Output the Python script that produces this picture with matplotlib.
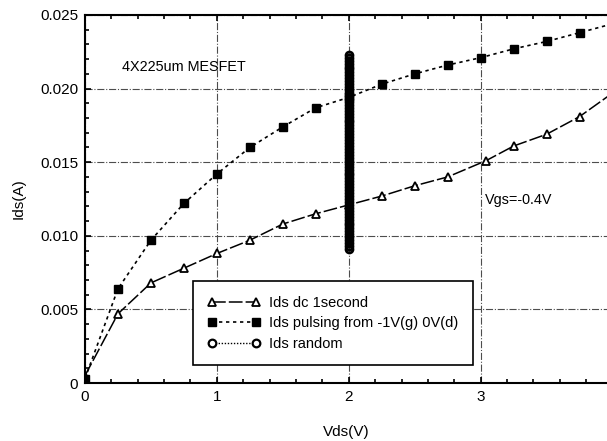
import numpy as np
import matplotlib.pyplot as plt
from matplotlib.ticker import MultipleLocator

plt.rcParams['font.family'] = ['Liberation Sans', 'DejaVu Sans']

# Ids dc 1second
vds_dc = [0.0, 0.25, 0.5, 0.75, 1.0, 1.25, 1.5, 1.75, 2.0, 2.25, 2.5, 2.75,
          3.04, 3.25, 3.5, 3.75, 4.0]
ids_dc = [0.0005, 0.0047, 0.0068, 0.0078, 0.0088, 0.0097, 0.0108, 0.0115,
          0.0121, 0.0127, 0.0134, 0.0140, 0.0151, 0.0161, 0.0169, 0.0181, 0.0197]

# Ids pulsing from -1V(g) 0V(d)
vds_pulse = [0.0, 0.25, 0.5, 0.75, 1.0, 1.25, 1.5, 1.75, 2.0, 2.25, 2.5, 2.75,
             3.0, 3.25, 3.5, 3.75, 4.0]
ids_pulse = [0.0003, 0.0064, 0.0097, 0.0122, 0.0142, 0.0160, 0.0174, 0.0187,
             0.0194, 0.0203, 0.0210, 0.0216, 0.0221, 0.0227, 0.0232, 0.0238, 0.0244]

# Ids random (all measured at Vds = 2V)
ids_random = [0.0091, 0.0093, 0.0095, 0.0097, 0.0099, 0.0101, 0.0103, 0.0105,
              0.0107, 0.0109, 0.0111, 0.0113, 0.0115, 0.0117, 0.0119, 0.0121,
              0.0123, 0.0125, 0.0127, 0.0129, 0.0131, 0.0133, 0.0135, 0.0137,
              0.0139, 0.0141, 0.0143, 0.0145, 0.0147, 0.0149, 0.0151, 0.0153,
              0.0155, 0.0157, 0.0159, 0.0161, 0.0163, 0.0165, 0.0167, 0.0169,
              0.0171, 0.0173, 0.0175, 0.0177, 0.0179, 0.0181, 0.0183, 0.0185,
              0.0187, 0.0189, 0.0191, 0.0193, 0.0195, 0.0197, 0.0199, 0.0201,
              0.0203, 0.0205, 0.0207, 0.0209, 0.0211, 0.0213, 0.0215, 0.0217,
              0.0219, 0.0221, 0.0223]
vds_random = [2.0] * len(ids_random)

fig = plt.figure(figsize=(6.07, 4.41), dpi=100)
ax = fig.add_axes([0.140, 0.1315, 0.862, 0.8345])

ax.grid(True, which='major', color='0.3', ls='-.', lw=0.8)
ax.set_axisbelow(True)

ax.plot(vds_dc, ids_dc, color='black', lw=1.1, dashes=(9, 2),
        marker='^', markersize=5.5, markerfacecolor='white', markeredgecolor='black',
        markeredgewidth=1.3, label='Ids dc 1second')
ax.plot(vds_pulse, ids_pulse, color='black', lw=1.2, dashes=(2, 2.2),
        marker='s', markersize=6, markerfacecolor='black', markeredgecolor='black',
        label='Ids pulsing from -1V(g) 0V(d)')
# legend-only handle for the random series (open circle)
ax.plot([], [], color='black', lw=1.0, ls=(0, (1, 1.2)),
        marker='o', markersize=5.5, markerfacecolor='white', markeredgecolor='black',
        markeredgewidth=1.6, label='Ids random')
ax.plot(vds_random, ids_random, color='black', lw=1.0, ls='none',
        marker='o', markersize=5, markerfacecolor='none', markeredgecolor='black',
        markeredgewidth=2.0)

ax.set_xlim(0, 3.967)
ax.set_ylim(0, 0.025)

ax.xaxis.set_minor_locator(MultipleLocator(0.2))
ax.yaxis.set_minor_locator(MultipleLocator(0.001))
ax.set_yticks([0, 0.005, 0.01, 0.015, 0.02, 0.025])
ax.set_yticklabels(['0', '0.005', '0.010', '0.015', '0.020', '0.025'])
ax.set_xticks([0, 1, 2, 3])
ax.set_xticklabels(['0', '1', '2', '3'])

ax.tick_params(which='both', direction='in', top=True, right=False, labelsize=11)
ax.tick_params(which='major', length=4, width=1.2, pad=5)
ax.tick_params(which='minor', length=3, width=1.2)

ax.spines['right'].set_visible(False)
for s in ['left', 'bottom', 'top']:
    ax.spines[s].set_linewidth(1.5)

ax.text(0.28, 0.0215, '4X225um MESFET', fontsize=10.4, va='center', ha='left')
ax.text(3.03, 0.0124, 'Vgs=-0.4V', fontsize=10.4, va='center', ha='left')

ax.set_xlabel('Vds(V)', fontsize=11, labelpad=15)
ax.set_ylabel('Ids(A)', fontsize=11, labelpad=10)

leg = ax.legend(loc='lower left', bbox_to_anchor=(0.207, 0.048), numpoints=2,
                fontsize=10.5, frameon=True, fancybox=False, handlelength=3.6,
                borderpad=1.0, labelspacing=0.45, handletextpad=0.6,
                borderaxespad=0)
leg.get_frame().set_edgecolor('black')
leg.get_frame().set_linewidth(1.2)
leg.get_frame().set_alpha(1)

fig.savefig('out.png', dpi=100)
